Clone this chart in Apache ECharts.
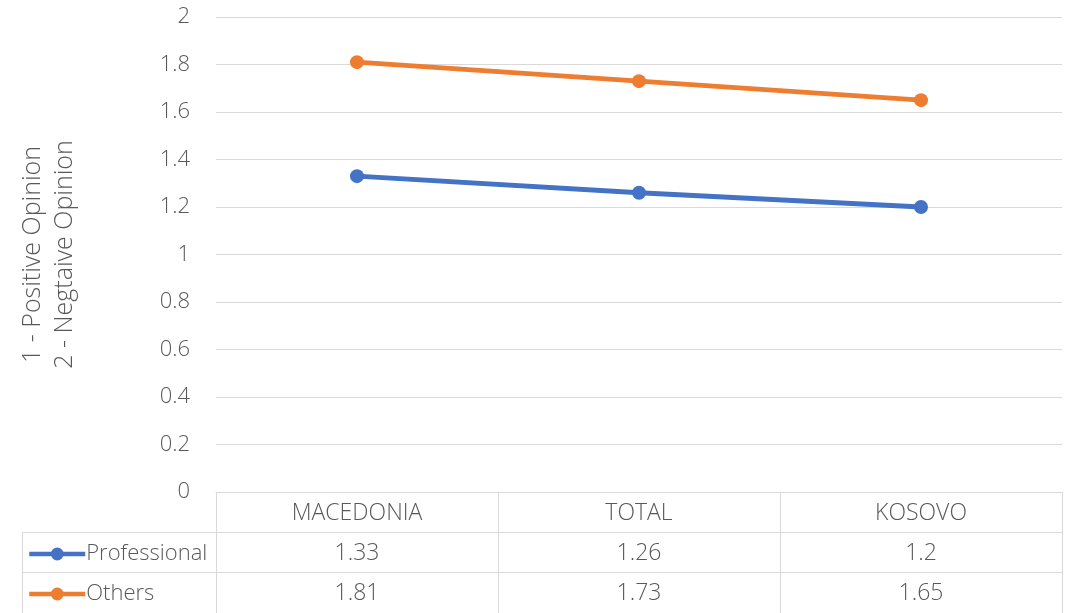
<!DOCTYPE html>
<html lang="en">
<head>
    <meta charset="UTF-8">
    <script src="https://cdn.jsdelivr.net/npm/echarts@6.0.0/dist/echarts.min.js"></script>
    <title>Opinion</title>
</head>
<body style="height: 100%; margin: 0">
<div id="container" style="width: 1068px; height: 613px"></div>
<script>
    // data
    var regions = ['MACEDONIA', 'TOTAL', 'KOSOVO'];
    var professional = [1.33, 1.26, 1.2];
    var others = [1.81, 1.73, 1.65];
    var yTicks = [0, 0.2, 0.4, 0.6, 0.8, 1, 1.2, 1.4, 1.6, 1.8, 2];

    var FONT = '"Open Sans", "Noto Sans", sans-serif';
    var TXT = '#595959';
    var LINE = '#d9d9d9';

    var dom = document.getElementById('container');
    var myChart = echarts.init(dom);

    // one x axis per table row, pushed down with offset
    function tableAxis(rowData, offset) {
        return {
            type: 'category',
            data: rowData,
            position: 'bottom',
            offset: offset,
            boundaryGap: true,
            axisLine: {show: true, lineStyle: {color: LINE, width: 1}},
            axisTick: {show: true, interval: 0, length: 41, lineStyle: {color: LINE, width: 1}},
            axisLabel: {interval: 0, margin: 10, color: TXT, fontSize: 23, fontFamily: FONT, fontWeight: 300},
            splitLine: {show: false}
        };
    }

    var option = {
        animation: false,
        grid: {left: 216, right: 6, top: 17, bottom: 121, outerBoundsMode: 'none', containLabel: false},
        legend: {
            orient: 'vertical',
            left: 27,
            top: 541,
            height: 72,
            padding: 0,
            itemGap: 14,
            itemWidth: 56,
            itemHeight: 16,
            data: ['Professional', 'Others'],
            lineStyle: {width: 4.5},
            textStyle: {color: TXT, fontSize: 22, lineHeight: 26, fontFamily: FONT, fontWeight: 300, padding: [0, 0, 0, -4]}
        },
        xAxis: [
            tableAxis(regions, 0),
            tableAxis(professional.map(String), 40),
            tableAxis(others.map(String), 80)
        ],
        yAxis: {
            type: 'value',
            min: 0,
            max: 2,
            interval: 0.2,
            name: '1 - Positive Opinion\n2 - Negtaive Opinion',
            nameLocation: 'middle',
            nameGap: 135,
            nameRotate: 90,
            nameTextStyle: {color: TXT, fontSize: 25, fontFamily: FONT, fontWeight: 300, lineHeight: 32},
            axisLine: {show: false},
            axisTick: {show: false},
            axisLabel: {
                margin: 26, color: TXT, fontSize: 22, fontFamily: FONT, fontWeight: 300,
                formatter: function (v) { return String(+v.toFixed(1)); }
            },
            splitLine: {lineStyle: {color: LINE, width: 1}}
        },
        // left column frame of the data table
        graphic: [
            {type: 'line', shape: {x1: 22.5, y1: 532.5, x2: 216, y2: 532.5}, style: {stroke: LINE, lineWidth: 1}},
            {type: 'line', shape: {x1: 22.5, y1: 572.5, x2: 216, y2: 572.5}, style: {stroke: LINE, lineWidth: 1}},
            {type: 'line', shape: {x1: 22.5, y1: 532.5, x2: 22.5, y2: 613}, style: {stroke: LINE, lineWidth: 1}}
        ],
        series: [
            {
                name: 'Professional', type: 'line', data: professional,
                color: '#4472C4', symbol: 'circle', symbolSize: 14,
                lineStyle: {width: 5}
            },
            {
                name: 'Others', type: 'line', data: others,
                color: '#ED7D31', symbol: 'circle', symbolSize: 14,
                lineStyle: {width: 5}
            }
        ]
    };

    myChart.setOption(option);
</script>
</body>
</html>
